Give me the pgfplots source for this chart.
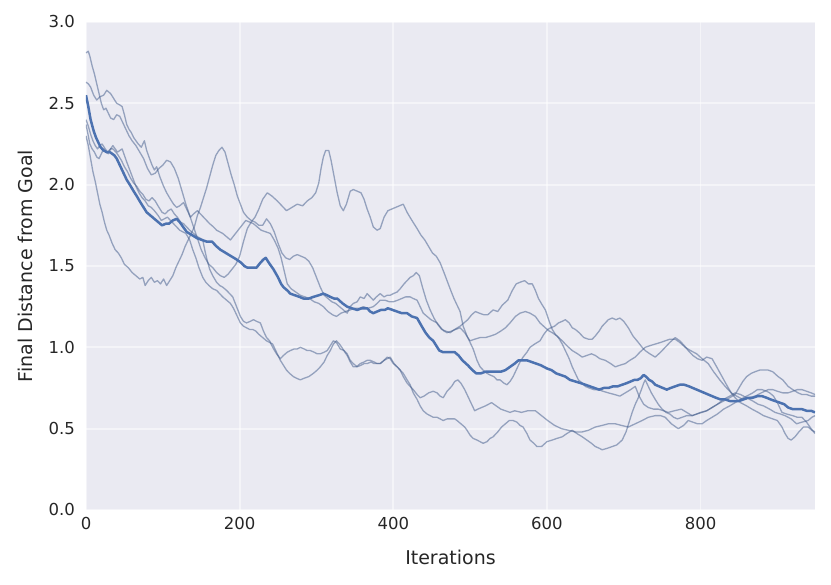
\documentclass[border=0pt]{standalone}
\usepackage{pgfplots}
\pgfplotsset{compat=1.18}
\usepackage{fontspec}
\setmainfont{DejaVu Sans}
\definecolor{sbblue}{HTML}{4C72B0}
\definecolor{thinc}{HTML}{3F5A8A}
\definecolor{bgc}{HTML}{EAEAF2}
\definecolor{txt}{HTML}{262626}
\begin{document}
\begin{tikzpicture}
\begin{axis}[
  scale only axis, width=729pt, height=488pt,
  xmin=0, xmax=949, ymin=0, ymax=3,
  xtick={0,200,400,600,800}, ytick={0,0.5,1,1.5,2,2.5,3},
  axis background/.style={fill=bgc},
  axis line style={draw=none}, major tick length=0pt,
  grid=major, major grid style={white, line width=1.8pt},
  /pgf/number format/assume math mode=true,
  yticklabel style={/pgf/number format/.cd, fixed, fixed zerofill, precision=1, /tikz/.cd, anchor=east, xshift=-7.5pt, font=\fontsize{16.5}{19}\selectfont, text=txt},
  xticklabel style={anchor=north, yshift=-4pt, font=\fontsize{16.5}{19}\selectfont, text=txt},
  xlabel={Iterations}, ylabel={Final Distance from Goal},
  every axis x label/.style={at={(axis description cs:0.5,-0.0963)}, anchor=center, font=\fontsize{19}{22}\selectfont, text=txt},
  every axis y label/.style={at={(axis description cs:-0.0837,0.5)}, rotate=90, anchor=center, font=\fontsize{19}{22}\selectfont, text=txt},
  thin/.style={thinc, opacity=0.5, line width=1.3pt, line join=round},
]
% run F
\addplot[thin] coordinates {(0,2.30)(3,2.24)(6,2.16)(9,2.08)(12,2.02)(15,1.95)(18,1.88)(21,1.83)(24,1.77)(27,1.72)(30,1.69)(34,1.64)(38,1.60)(42,1.58)(46,1.55)(50,1.51)(55,1.49)(60,1.46)(65,1.44)(70,1.42)(74,1.43)(77,1.38)(81,1.41)(85,1.43)(89,1.40)(93,1.41)(97,1.39)(101,1.42)(105,1.38)(109,1.41)(113,1.44)(117,1.49)(121,1.53)(125,1.57)(129,1.62)(133,1.66)(137,1.70)(141,1.74)(145,1.81)(149,1.86)(153,1.92)(157,1.98)(161,2.05)(165,2.12)(169,2.18)(173,2.21)(177,2.23)(181,2.20)(185,2.13)(189,2.06)(193,2.00)(197,1.93)(201,1.88)(205,1.83)(210,1.80)(215,1.78)(220,1.77)(225,1.75)(230,1.75)(235,1.79)(240,1.76)(245,1.71)(250,1.64)(255,1.58)(260,1.55)(265,1.54)(270,1.56)(275,1.57)(280,1.56)(285,1.55)(290,1.53)(295,1.49)(300,1.43)(305,1.37)(310,1.32)(315,1.30)(320,1.28)(325,1.27)(330,1.25)(335,1.23)(340,1.21)(344,1.25)(348,1.27)(353,1.28)(357,1.31)(362,1.30)(366,1.33)(370,1.31)(374,1.29)(378,1.31)(383,1.33)(388,1.31)(392,1.32)(396,1.32)(400,1.33)(405,1.34)(409,1.36)(414,1.39)(418,1.41)(422,1.43)(426,1.44)(430,1.46)(434,1.44)(438,1.37)(443,1.29)(448,1.23)(453,1.18)(458,1.14)(463,1.11)(468,1.10)(474,1.09)(480,1.11)(487,1.13)(492,1.15)(497,1.17)(502,1.20)(507,1.22)(512,1.21)(518,1.20)(523,1.20)(530,1.23)(536,1.22)(542,1.26)(549,1.29)(555,1.35)(560,1.39)(565,1.40)(571,1.41)(576,1.39)(581,1.39)(585,1.35)(589,1.30)(594,1.26)(598,1.23)(603,1.16)(607,1.11)(611,1.08)(615,1.06)(620,1.02)(624,0.98)(629,0.93)(633,0.88)(637,0.84)(641,0.80)(646,0.78)(650,0.76)(655,0.75)(661,0.74)(667,0.74)(673,0.73)(680,0.72)(688,0.71)(695,0.70)(702,0.72)(709,0.74)(715,0.76)(720,0.70)(726,0.65)(732,0.63)(739,0.62)(745,0.62)(752,0.61)(758,0.60)(766,0.61)(775,0.62)(782,0.60)(789,0.58)(795,0.59)(800,0.60)(808,0.61)(815,0.63)(822,0.65)(830,0.68)(838,0.70)(845,0.72)(852,0.71)(860,0.69)(868,0.67)(875,0.65)(882,0.64)(890,0.62)(897,0.60)(904,0.59)(910,0.58)(918,0.56)(925,0.53)(932,0.54)(940,0.55)(945,0.57)(949,0.58)};
% run Q
\addplot[thin] coordinates {(0,2.81)(3,2.82)(5,2.79)(8,2.73)(11,2.68)(14,2.62)(17,2.56)(20,2.50)(23,2.46)(26,2.47)(29,2.44)(32,2.41)(36,2.40)(40,2.43)(44,2.42)(48,2.38)(52,2.34)(56,2.30)(60,2.27)(65,2.24)(70,2.20)(75,2.16)(80,2.10)(85,2.06)(90,2.07)(95,2.10)(100,2.12)(105,2.15)(110,2.14)(115,2.10)(120,2.04)(125,1.96)(130,1.88)(135,1.81)(140,1.74)(145,1.67)(150,1.60)(155,1.55)(160,1.51)(165,1.49)(170,1.46)(175,1.44)(180,1.43)(185,1.45)(190,1.48)(195,1.51)(200,1.56)(205,1.65)(210,1.73)(215,1.77)(220,1.80)(225,1.85)(230,1.91)(236,1.95)(242,1.93)(249,1.90)(255,1.87)(261,1.84)(268,1.86)(275,1.88)(282,1.87)(288,1.90)(294,1.92)(299,1.95)(303,2.01)(306,2.10)(309,2.17)(312,2.21)(316,2.21)(319,2.15)(323,2.05)(327,1.95)(331,1.87)(335,1.84)(339,1.88)(344,1.96)(348,1.97)(353,1.96)(358,1.95)(362,1.91)(366,1.85)(370,1.80)(374,1.74)(379,1.72)(383,1.73)(388,1.80)(393,1.84)(398,1.85)(403,1.86)(408,1.87)(413,1.88)(418,1.83)(423,1.79)(427,1.76)(431,1.73)(436,1.69)(441,1.66)(446,1.62)(451,1.58)(456,1.56)(461,1.52)(466,1.46)(470,1.41)(474,1.36)(479,1.30)(483,1.26)(487,1.22)(491,1.13)(496,1.07)(500,1.03)(504,0.99)(509,0.92)(513,0.88)(517,0.86)(522,0.84)(526,0.83)(531,0.82)(535,0.80)(539,0.80)(544,0.78)(548,0.77)(552,0.79)(556,0.82)(561,0.87)(565,0.91)(569,0.94)(574,0.97)(578,1.00)(584,1.02)(591,1.04)(596,1.08)(601,1.11)(605,1.12)(610,1.13)(615,1.15)(620,1.16)(624,1.17)(629,1.15)(633,1.12)(637,1.11)(642,1.09)(648,1.06)(654,1.05)(659,1.05)(663,1.07)(668,1.10)(672,1.13)(676,1.15)(680,1.17)(685,1.18)(690,1.17)(695,1.18)(700,1.16)(706,1.12)(712,1.07)(719,1.03)(724,1.00)(728,0.98)(734,0.96)(741,0.94)(748,0.97)(754,1.00)(760,1.03)(767,1.06)(773,1.04)(779,1.01)(784,0.98)(790,0.95)(796,0.93)(802,0.92)(808,0.94)(815,0.93)(821,0.88)(828,0.82)(835,0.76)(840,0.72)(845,0.69)(852,0.66)(860,0.64)(867,0.62)(875,0.60)(882,0.58)(888,0.57)(894,0.56)(900,0.55)(906,0.51)(910,0.47)(914,0.44)(918,0.43)(923,0.45)(928,0.48)(934,0.51)(940,0.51)(945,0.49)(949,0.48)};
% run c
\addplot[thin] coordinates {(0,2.63)(3,2.62)(6,2.60)(10,2.55)(14,2.52)(18,2.54)(23,2.55)(27,2.58)(32,2.56)(36,2.53)(40,2.50)(44,2.49)(47,2.48)(50,2.43)(53,2.37)(56,2.34)(59,2.32)(62,2.29)(65,2.27)(68,2.25)(72,2.23)(76,2.27)(79,2.21)(82,2.17)(86,2.12)(89,2.09)(92,2.11)(96,2.05)(101,1.99)(105,1.95)(110,1.91)(114,1.88)(118,1.86)(122,1.87)(127,1.89)(131,1.85)(136,1.80)(140,1.82)(145,1.84)(149,1.82)(153,1.80)(157,1.78)(161,1.76)(166,1.74)(170,1.72)(174,1.71)(178,1.70)(183,1.68)(188,1.66)(193,1.69)(198,1.72)(203,1.75)(208,1.78)(213,1.77)(218,1.76)(223,1.74)(228,1.72)(234,1.71)(240,1.70)(245,1.66)(250,1.61)(254,1.55)(258,1.47)(262,1.39)(267,1.36)(273,1.34)(279,1.32)(285,1.31)(291,1.30)(297,1.28)(303,1.27)(309,1.25)(315,1.22)(321,1.20)(326,1.19)(332,1.21)(338,1.22)(344,1.23)(350,1.24)(356,1.24)(361,1.25)(367,1.24)(374,1.25)(379,1.27)(383,1.29)(389,1.29)(395,1.28)(400,1.28)(406,1.29)(411,1.30)(416,1.31)(422,1.31)(426,1.30)(431,1.29)(435,1.25)(439,1.21)(444,1.19)(449,1.17)(453,1.16)(457,1.15)(462,1.12)(466,1.10)(470,1.09)(476,1.10)(481,1.11)(487,1.12)(493,1.09)(497,1.06)(500,1.04)(506,1.05)(513,1.06)(520,1.06)(527,1.07)(533,1.08)(540,1.10)(546,1.12)(552,1.15)(559,1.19)(565,1.21)(572,1.22)(578,1.21)(585,1.19)(591,1.15)(598,1.12)(603,1.10)(607,1.09)(613,1.07)(620,1.04)(626,1.01)(633,0.98)(640,0.96)(646,0.94)(652,0.95)(658,0.96)(663,0.95)(669,0.93)(676,0.92)(683,0.90)(689,0.88)(695,0.89)(702,0.90)(708,0.92)(715,0.94)(721,0.97)(728,1.00)(734,1.01)(741,1.02)(748,1.03)(754,1.04)(760,1.05)(767,1.05)(773,1.03)(780,1.00)(787,0.98)(795,0.96)(802,0.93)(810,0.90)(817,0.85)(825,0.80)(832,0.76)(840,0.72)(847,0.70)(855,0.68)(863,0.69)(871,0.70)(879,0.72)(888,0.74)(894,0.74)(900,0.73)(907,0.72)(914,0.72)(920,0.73)(926,0.74)(932,0.74)(938,0.73)(944,0.72)(949,0.71)};
% run d
\addplot[thin] coordinates {(0,2.40)(3,2.36)(6,2.31)(9,2.27)(12,2.24)(15,2.22)(18,2.24)(21,2.25)(25,2.22)(28,2.20)(32,2.22)(35,2.22)(39,2.20)(42,2.18)(46,2.15)(50,2.11)(54,2.08)(58,2.04)(62,2.01)(66,1.99)(70,1.96)(74,1.94)(78,1.91)(82,1.90)(86,1.92)(90,1.90)(95,1.86)(99,1.83)(103,1.82)(107,1.84)(111,1.85)(115,1.82)(119,1.80)(123,1.77)(127,1.76)(131,1.74)(135,1.72)(140,1.70)(145,1.68)(149,1.67)(152,1.66)(155,1.59)(158,1.53)(161,1.48)(165,1.44)(170,1.40)(174,1.38)(178,1.37)(183,1.35)(187,1.33)(191,1.31)(196,1.25)(201,1.19)(205,1.16)(209,1.15)(214,1.16)(218,1.17)(222,1.16)(227,1.15)(231,1.10)(235,1.06)(239,1.04)(243,1.00)(248,0.96)(253,0.93)(257,0.95)(262,0.97)(266,0.98)(271,0.99)(275,0.99)(279,1.00)(284,0.99)(288,0.98)(292,0.98)(297,0.97)(301,0.96)(305,0.96)(310,0.97)(314,0.98)(318,1.01)(322,1.04)(326,1.03)(331,0.99)(336,0.98)(340,0.96)(344,0.92)(348,0.90)(353,0.88)(358,0.89)(362,0.90)(366,0.90)(371,0.91)(375,0.90)(379,0.90)(383,0.90)(388,0.92)(392,0.94)(396,0.93)(400,0.90)(405,0.88)(409,0.86)(413,0.82)(418,0.78)(422,0.76)(426,0.74)(431,0.71)(435,0.69)(440,0.70)(446,0.72)(452,0.73)(457,0.72)(461,0.70)(465,0.69)(470,0.73)(476,0.76)(480,0.79)(484,0.80)(488,0.78)(493,0.74)(497,0.70)(502,0.65)(506,0.61)(510,0.62)(515,0.63)(520,0.64)(528,0.66)(534,0.64)(540,0.62)(546,0.61)(552,0.60)(558,0.61)(567,0.60)(575,0.61)(585,0.61)(593,0.58)(601,0.55)(610,0.52)(619,0.50)(628,0.49)(637,0.48)(646,0.48)(654,0.49)(663,0.51)(672,0.52)(680,0.53)(689,0.53)(697,0.52)(706,0.51)(715,0.53)(724,0.55)(732,0.57)(741,0.58)(748,0.58)(754,0.57)(762,0.53)(771,0.50)(778,0.52)(784,0.55)(790,0.54)(796,0.53)(802,0.53)(808,0.55)(815,0.57)(822,0.59)(830,0.62)(838,0.64)(845,0.66)(852,0.68)(860,0.70)(868,0.72)(874,0.74)(880,0.74)(886,0.73)(890,0.72)(895,0.70)(900,0.66)(906,0.60)(912,0.59)(920,0.58)(926,0.57)(932,0.57)(938,0.54)(944,0.50)(949,0.47)};
% run e
\addplot[thin] coordinates {(0,2.37)(3,2.30)(5,2.25)(8,2.22)(11,2.20)(14,2.17)(17,2.16)(20,2.19)(23,2.22)(26,2.20)(29,2.19)(32,2.22)(35,2.24)(38,2.22)(41,2.20)(44,2.21)(47,2.22)(50,2.18)(53,2.14)(57,2.09)(61,2.04)(65,1.99)(69,1.95)(73,1.92)(77,1.90)(81,1.87)(85,1.86)(89,1.84)(94,1.81)(98,1.78)(102,1.79)(106,1.80)(110,1.78)(114,1.76)(118,1.74)(122,1.72)(126,1.71)(130,1.70)(135,1.66)(139,1.60)(143,1.55)(147,1.49)(152,1.43)(156,1.40)(160,1.38)(165,1.36)(170,1.35)(174,1.33)(178,1.31)(183,1.29)(188,1.27)(192,1.24)(196,1.20)(201,1.15)(205,1.13)(209,1.12)(213,1.11)(217,1.11)(221,1.10)(225,1.08)(230,1.06)(235,1.04)(239,1.03)(243,1.02)(248,0.97)(253,0.92)(257,0.89)(261,0.86)(265,0.84)(270,0.82)(274,0.81)(279,0.80)(284,0.81)(290,0.82)(296,0.84)(301,0.86)(305,0.88)(310,0.91)(314,0.95)(318,0.98)(322,1.02)(326,1.04)(330,1.02)(333,1.00)(337,0.97)(340,0.95)(344,0.91)(348,0.88)(352,0.88)(357,0.90)(362,0.91)(366,0.92)(370,0.92)(375,0.91)(379,0.90)(383,0.90)(388,0.92)(392,0.93)(396,0.94)(401,0.90)(405,0.88)(409,0.86)(413,0.84)(418,0.80)(422,0.77)(426,0.72)(431,0.68)(435,0.64)(439,0.61)(444,0.59)(448,0.58)(452,0.57)(457,0.57)(461,0.56)(465,0.55)(470,0.56)(475,0.56)(480,0.56)(483,0.55)(488,0.53)(493,0.51)(496,0.49)(500,0.46)(504,0.44)(509,0.43)(513,0.42)(517,0.41)(522,0.42)(526,0.44)(530,0.45)(536,0.48)(541,0.51)(546,0.53)(551,0.55)(556,0.55)(561,0.54)(565,0.52)(569,0.51)(574,0.47)(578,0.43)(583,0.41)(587,0.39)(593,0.39)(600,0.42)(607,0.43)(613,0.44)(620,0.45)(626,0.47)(633,0.49)(639,0.47)(646,0.45)(652,0.43)(658,0.41)(663,0.39)(668,0.38)(672,0.37)(679,0.38)(685,0.39)(691,0.40)(698,0.43)(703,0.48)(707,0.54)(711,0.60)(715,0.65)(719,0.69)(723,0.74)(726,0.78)(728,0.80)(732,0.76)(736,0.72)(741,0.68)(745,0.65)(750,0.62)(755,0.60)(760,0.59)(765,0.57)(770,0.56)(776,0.57)(782,0.58)(789,0.58)(795,0.59)(802,0.60)(808,0.61)(815,0.63)(822,0.65)(830,0.67)(838,0.69)(845,0.71)(850,0.75)(855,0.79)(860,0.82)(866,0.84)(871,0.85)(877,0.86)(882,0.86)(888,0.86)(894,0.85)(901,0.82)(907,0.80)(914,0.76)(920,0.74)(927,0.72)(932,0.71)(938,0.71)(944,0.70)(949,0.70)};
% mean
\addplot[sbblue, line width=2.5pt, line join=round] coordinates {(0,2.55)(3,2.48)(6,2.40)(10,2.33)(13,2.29)(16,2.26)(19,2.23)(23,2.21)(27,2.20)(31,2.20)(34,2.19)(37,2.18)(40,2.16)(44,2.12)(47,2.09)(50,2.06)(53,2.03)(57,2.00)(62,1.96)(66,1.93)(71,1.89)(75,1.86)(79,1.83)(84,1.81)(89,1.79)(94,1.77)(99,1.75)(104,1.76)(108,1.76)(113,1.78)(118,1.79)(122,1.77)(125,1.75)(128,1.73)(131,1.71)(138,1.69)(145,1.67)(151,1.66)(157,1.65)(164,1.65)(170,1.62)(175,1.60)(182,1.58)(189,1.56)(196,1.54)(202,1.52)(206,1.50)(210,1.49)(216,1.49)(222,1.49)(227,1.52)(231,1.54)(234,1.55)(238,1.52)(244,1.48)(250,1.43)(254,1.39)(257,1.37)(262,1.35)(266,1.33)(272,1.32)(278,1.31)(283,1.30)(290,1.30)(296,1.31)(303,1.32)(309,1.33)(314,1.32)(318,1.31)(323,1.30)(327,1.30)(334,1.27)(340,1.25)(346,1.24)(353,1.23)(359,1.24)(366,1.24)(370,1.22)(374,1.21)(379,1.22)(384,1.23)(389,1.23)(393,1.24)(399,1.23)(405,1.22)(411,1.21)(418,1.21)(424,1.19)(431,1.18)(437,1.13)(442,1.09)(447,1.06)(452,1.04)(456,1.01)(460,0.98)(465,0.97)(470,0.97)(475,0.97)(480,0.97)(485,0.95)(490,0.92)(497,0.89)(503,0.86)(508,0.84)(514,0.84)(520,0.85)(526,0.85)(533,0.85)(540,0.85)(546,0.86)(552,0.88)(558,0.90)(563,0.92)(568,0.92)(574,0.92)(580,0.91)(586,0.90)(592,0.89)(600,0.87)(606,0.86)(612,0.84)(618,0.83)(624,0.82)(630,0.80)(637,0.79)(644,0.78)(650,0.77)(656,0.76)(662,0.75)(668,0.74)(674,0.75)(680,0.75)(686,0.76)(692,0.76)(698,0.77)(704,0.78)(709,0.79)(714,0.80)(718,0.80)(722,0.81)(726,0.83)(729,0.82)(733,0.80)(737,0.79)(741,0.77)(746,0.76)(751,0.75)(756,0.74)(761,0.75)(767,0.76)(773,0.77)(779,0.77)(785,0.76)(790,0.75)(795,0.74)(800,0.73)(805,0.72)(810,0.71)(815,0.70)(820,0.69)(826,0.68)(832,0.68)(838,0.67)(844,0.67)(850,0.67)(856,0.68)(862,0.69)(868,0.69)(874,0.70)(880,0.70)(886,0.69)(891,0.68)(897,0.67)(903,0.66)(909,0.65)(914,0.63)(920,0.62)(926,0.62)(932,0.62)(938,0.61)(944,0.61)(949,0.60)};
\end{axis}
\pgfresetboundingbox
\path[use as bounding box] (-86pt,-75pt) rectangle (745pt,510pt);
\end{tikzpicture}
\end{document}
